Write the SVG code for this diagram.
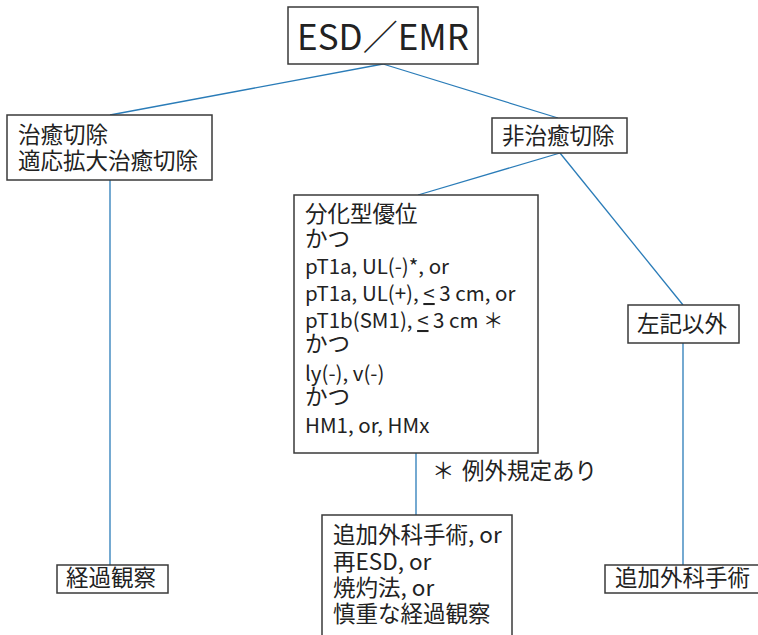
<svg xmlns="http://www.w3.org/2000/svg" width="758" height="635" viewBox="0 0 758 635">
<style>
.box{fill:#fff;stroke:#3a3a3a;stroke-width:1.5}
.ln{stroke:#2a7cb8;stroke-width:1.3;fill:none}
text{font-family:"Noto Sans CJK JP","Noto Sans",sans-serif;fill:#222}
.t{font-size:22.5px}
.s{font-size:20.5px}
.u{text-decoration:underline}
</style>
<rect width="758" height="635" fill="#fff"/>
<g id="connectors">
<line class="ln" x1="383" y1="64" x2="110" y2="115"/>
<line class="ln" x1="383" y1="64" x2="558" y2="118"/>
<line class="ln" x1="110" y1="180" x2="110" y2="565"/>
<line class="ln" x1="560" y1="153" x2="418" y2="195"/>
<line class="ln" x1="560" y1="153" x2="683" y2="305"/>
<line class="ln" x1="416" y1="453" x2="416" y2="515"/>
<line class="ln" x1="683" y1="343" x2="683" y2="565"/>
</g>
<g id="n-esd">
<rect class="box" x="288" y="7" width="190" height="57"/>
<text x="383" y="50" font-size="35" text-anchor="middle">ESD／EMR</text>
</g>
<g id="n-cure">
<rect class="box" x="7" y="115" width="205" height="65"/>
<text class="t" x="18" y="143">治癒切除</text>
<text class="t" x="18" y="169">適応拡大治癒切除</text>
</g>
<g id="n-noncure">
<rect class="box" x="492" y="118" width="135" height="35"/>
<text class="t" x="502" y="144">非治癒切除</text>
</g>
<g id="n-cond">
<rect class="box" x="294" y="195" width="244" height="258"/>
<text class="t" x="305" y="222">分化型優位</text>
<text class="t" x="305" y="247">かつ</text>
<text class="s" x="305" y="274">pT1a, UL(-)*, or</text>
<text class="s" x="305" y="301">pT1a, UL(+), <tspan class="u">&lt;</tspan> 3 cm, or</text>
<text class="s" x="305" y="328">pT1b(SM1), <tspan class="u">&lt;</tspan> 3 cm ＊</text>
<text class="t" x="305" y="352">かつ</text>
<text class="s" x="305" y="381">ly(-), v(-)</text>
<text class="t" x="305" y="405">かつ</text>
<text class="s" x="305" y="433">HM1, or, HMx</text>
</g>
<g id="n-note">
<text class="t" x="432" y="479">＊</text>
<text class="t" x="462" y="479">例外規定あり</text>
</g>
<g id="n-other">
<rect class="box" x="628" y="305" width="111" height="38"/>
<text class="t" x="637" y="332">左記以外</text>
</g>
<g id="n-follow">
<rect class="box" x="57" y="565" width="111" height="28"/>
<text class="t" x="66" y="586">経過観察</text>
</g>
<g id="n-options">
<rect class="box" x="322" y="515" width="190" height="125"/>
<text class="t" x="333" y="543">追加外科手術, or</text>
<text class="t" x="333" y="570">再ESD, or</text>
<text class="t" x="333" y="596">焼灼法, or</text>
<text class="t" x="333" y="622">慎重な経過観察</text>
</g>
<g id="n-surgery">
<rect class="box" x="605" y="565" width="160" height="28"/>
<text class="t" x="615" y="586">追加外科手術</text>
</g>
</svg>
